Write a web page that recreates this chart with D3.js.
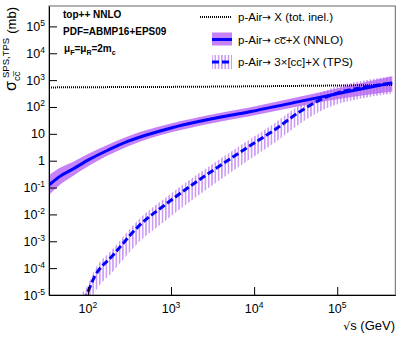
<!DOCTYPE html>
<html>
<head>
<meta charset="utf-8">
<script src="https://cdn.jsdelivr.net/npm/d3@7"></script>
<style>
body { margin: 0; background: #fff; }
text { font-family: "Liberation Sans", Arial, Helvetica, sans-serif; fill: #000; }
.arrow { font-family: "DejaVu Sans", sans-serif; }
</style>
</head>
<body>
<svg id="chart" width="407" height="337"></svg>
<script>
///////////////////////////////////////////
// Data
///////////////////////////////////////////
var inelSqrtS = [34, 100, 1000, 10000, 100000, 460000];
var inelSigma = [535, 545, 560, 590, 630, 660];

var nnloSqrtS = [34, 45, 66, 104, 166, 300, 1000, 3000, 8800, 30000, 100000, 200000, 460000];
var nnloSigma = [0.124, 0.25, 0.49, 1.12, 2.3, 5.2, 16.6, 35.5, 66, 145, 310, 480, 790];
var nnloLow   = [0.053, 0.12, 0.27, 0.66, 1.45, 3.4, 11.4, 24.5, 45.5, 97, 195, 265, 380];
var nnloHigh  = [0.29, 0.52, 0.9, 1.9, 3.7, 8.0, 24.2, 51.5, 96, 215, 490, 800, 1380];

var tpsSqrtS = [85, 95, 120, 200, 420, 835, 1660, 3000, 8800, 17600, 35000, 61000, 100000, 187000, 460000];
var tpsSigma = [6.7e-6, 1e-5, 4.8e-5, 3e-4, 4e-3, 0.022, 0.107, 0.38, 3.5, 14, 65, 180, 330, 510, 780];
var tpsLow   = [1.7e-6, 2.5e-6, 1.2e-5, 7.5e-5, 1e-3, 5.5e-3, 0.029, 0.11, 1.1, 4.7, 23, 67, 127, 204, 320];
var tpsHigh  = [1.2e-5, 1.8e-5, 8.5e-5, 5.3e-4, 7.1e-3, 0.039, 0.19, 0.67, 6.2, 24.9, 115, 320, 587, 907, 1390];

var xTickExp = [2, 3, 4, 5];
var yTickExp = [-5, -4, -3, -2, -1, 0, 1, 2, 3, 4, 5];

var legendLabels = [" X (tot. inel.)", " cc\u0305+X (NNLO)", " 3\u00d7[cc]+X (TPS)"];

///////////////////////////////////////////
// Layout
///////////////////////////////////////////
var fL = 49, fR = 395.3, fT = 6, fB = 295;
var violet = "#c683f7";
var hatchColor = "#b56cf0";
var blue = "#0000ff";

var svg = d3.select("#chart");

var x = d3.scaleLog().domain([34, 5e5]).range([fL, fR]);
var y = d3.scaleLog().domain([1e-5, 5.75e5]).range([fB, fT]);

function zipBand(s, c, lo, hi) {
    return s.map(function(v, i) { return {s: v, c: c[i], lo: lo[i], hi: hi[i]}; });
}
var nnlo = zipBand(nnloSqrtS, nnloSigma, nnloLow, nnloHigh);
var tps = zipBand(tpsSqrtS, tpsSigma, tpsLow, tpsHigh);
var inel = inelSqrtS.map(function(v, i) { return {s: v, c: inelSigma[i]}; });

var defs = svg.append("defs");
defs.append("clipPath").attr("id", "frame-clip")
  .append("rect").attr("x", fL).attr("y", fT).attr("width", fR - fL).attr("height", fB - fT);

var hatch = defs.append("pattern").attr("id", "vhatch")
    .attr("patternUnits", "userSpaceOnUse")
    .attr("width", 3.3).attr("height", 10);
hatch.append("line").attr("x1", 0.8).attr("x2", 0.8).attr("y1", 0).attr("y2", 10)
    .attr("stroke", hatchColor).attr("stroke-width", 1.1);

///////////////////////////////////////////
// Marks
///////////////////////////////////////////
var area = d3.area()
    .x(function(d) { return x(d.s); })
    .y0(function(d) { return y(d.lo); })
    .y1(function(d) { return y(d.hi); })
    .curve(d3.curveMonotoneX);
var line = d3.line()
    .x(function(d) { return x(d.s); })
    .y(function(d) { return y(d.c); })
    .curve(d3.curveMonotoneX);

var plot = svg.append("g").attr("clip-path", "url(#frame-clip)");

plot.append("path").datum(nnlo).attr("d", area).attr("fill", violet);
plot.append("path").datum(tps).attr("d", area).attr("fill", "url(#vhatch)");
plot.append("path").datum(inel).attr("d", line)
    .attr("fill", "none").attr("stroke", "#000").attr("stroke-width", 2)
    .attr("stroke-dasharray", "1,1");
plot.append("path").datum(nnlo).attr("d", line)
    .attr("fill", "none").attr("stroke", blue).attr("stroke-width", 3);
plot.append("path").datum(tps).attr("d", line)
    .attr("fill", "none").attr("stroke", blue).attr("stroke-width", 3)
    .attr("stroke-dasharray", "7,3");

///////////////////////////////////////////
// Axes
///////////////////////////////////////////
svg.append("rect").attr("x", fL).attr("y", fT)
    .attr("width", fR - fL).attr("height", fB - fT)
    .attr("fill", "none").attr("stroke", "#666").attr("stroke-width", 1);

function minors(lo, hi) {
    var out = [];
    for (var e = lo; e <= hi; e++)
        for (var m = 2; m <= 9; m++) out.push(m * Math.pow(10, e));
    return out;
}

var xMinor = minors(1, 5).filter(function(v) { return v >= 34 && v <= 5e5; });
var yMinor = minors(-5, 5).filter(function(v) { return v <= 5.75e5; });

var gx = svg.append("g").attr("transform", "translate(0," + fB + ")");
gx.call(d3.axisBottom(x).tickValues(xMinor).tickSizeInner(-4).tickSizeOuter(0).tickFormat(""));
gx.call(d3.axisBottom(x).tickValues(xTickExp.map(function(e) { return Math.pow(10, e); }))
    .tickSizeInner(-8).tickSizeOuter(0).tickFormat(""));
gx.selectAll("path.domain").attr("stroke", "#000");

var gy = svg.append("g").attr("transform", "translate(" + fL + ",0)");
gy.call(d3.axisLeft(y).tickValues(yMinor).tickSizeInner(-4).tickSizeOuter(0).tickFormat(""));
gy.call(d3.axisLeft(y).tickValues(yTickExp.map(function(e) { return Math.pow(10, e); }))
    .tickSizeInner(-8).tickSizeOuter(0).tickFormat(""));
gy.selectAll("path.domain").attr("stroke", "#000");
svg.selectAll(".tick line").attr("stroke", "#000");

function powLabel(sel, e) {
    if (e === 0) { sel.append("tspan").text("1"); return; }
    sel.append("tspan").text("10");
    if (e !== 1) sel.append("tspan").attr("dy", -5).attr("font-size", 8.5).text(e);
}

xTickExp.forEach(function(e) {
    var t = svg.append("text").attr("x", x(Math.pow(10, e))).attr("y", 313)
        .attr("text-anchor", "middle").attr("font-size", 12.5);
    powLabel(t, e);
});
yTickExp.forEach(function(e) {
    var t = svg.append("text").attr("x", 45).attr("y", y(Math.pow(10, e)) + 4.5)
        .attr("text-anchor", "end").attr("font-size", 12.5);
    powLabel(t, e);
});

// axis titles
var xt = svg.append("text").attr("x", 395).attr("y", 330).attr("text-anchor", "end").attr("font-size", 13);
xt.append("tspan").attr("class", "arrow").attr("font-size", 11).text("\u221A");
xt.append("tspan").text("s (GeV)");

var yt = svg.append("g").attr("transform", "translate(16,0) rotate(-90)");
yt.append("text").attr("x", -91).attr("y", 0).attr("font-size", 16).text("\u03C3");
yt.append("text").attr("x", -81).attr("y", 3.5).attr("font-size", 9.5).text("cc\u0305");
yt.append("text").attr("x", -78).attr("y", -7).attr("font-size", 9.5).text("SPS,TPS");
yt.append("text").attr("x", -7).attr("y", 0).attr("text-anchor", "end").attr("font-size", 13).text("(mb)");

///////////////////////////////////////////
// Annotations
///////////////////////////////////////////
svg.append("text").attr("x", 63).attr("y", 17.5).attr("font-size", 10).attr("font-weight", "bold").text("top++ NNLO");
svg.append("text").attr("x", 63).attr("y", 35).attr("font-size", 10).attr("font-weight", "bold").text("PDF=ABMP16+EPS09");
var mu = svg.append("text").attr("x", 64).attr("y", 52).attr("font-size", 10).attr("font-weight", "bold");
mu.append("tspan").text("\u03BC");
mu.append("tspan").attr("dy", 3).attr("font-size", 7).text("F");
mu.append("tspan").attr("dy", -3).text("=\u03BC");
mu.append("tspan").attr("dy", 3).attr("font-size", 7).text("R");
mu.append("tspan").attr("dy", -3).text("=2m");
mu.append("tspan").attr("dy", 3).attr("font-size", 7).text("c");

///////////////////////////////////////////
// Legend
///////////////////////////////////////////
var legY = [21, 43.5, 66];
var lg = svg.append("g");
lg.append("line").attr("x1", 200).attr("x2", 232).attr("y1", legY[0] - 4).attr("y2", legY[0] - 4)
    .attr("stroke", "#000").attr("stroke-width", 2).attr("stroke-dasharray", "1,1");
lg.append("rect").attr("x", 212).attr("y", legY[1] - 11).attr("width", 20).attr("height", 13).attr("fill", violet);
lg.append("line").attr("x1", 212).attr("x2", 232).attr("y1", legY[1] - 4).attr("y2", legY[1] - 4)
    .attr("stroke", blue).attr("stroke-width", 3);
lg.append("rect").attr("x", 212).attr("y", legY[2] - 11).attr("width", 20).attr("height", 14).attr("fill", "url(#vhatch)");
lg.append("line").attr("x1", 212).attr("x2", 232).attr("y1", legY[2] - 4).attr("y2", legY[2] - 4)
    .attr("stroke", blue).attr("stroke-width", 3).attr("stroke-dasharray", "7,3");
legendLabels.forEach(function(t, i) {
    var tx = lg.append("text").attr("x", 238).attr("y", legY[i]).attr("font-size", 11.5);
    tx.append("tspan").text("p-Air");
    tx.append("tspan").attr("class", "arrow").attr("font-size", 10.5).text("\u2192");
    tx.append("tspan").text(t);
});
</script>
</body>
</html>
